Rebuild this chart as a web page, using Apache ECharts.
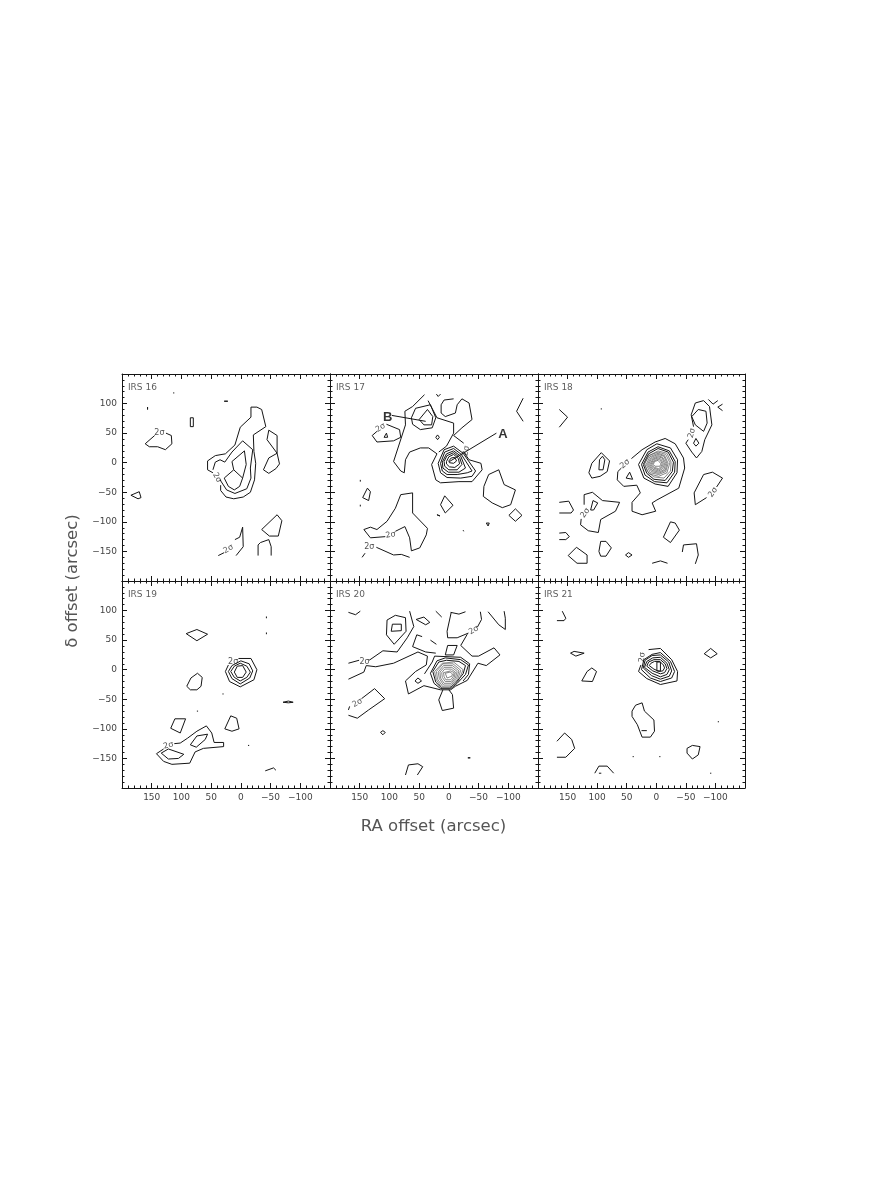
<!DOCTYPE html>
<html>
<head>
<meta charset="utf-8">
<style>
  html, body { margin: 0; padding: 0; background: #fff; }
  #chart { width: 872px; height: 1204px; }
</style>
<script src="https://cdn.jsdelivr.net/npm/echarts@6/dist/echarts.min.js"></script>
</head>
<body>
<div id="chart"></div>
<script>
// every contour is a list of [RA offset, dec offset], in arcsec
const panelNames = ["IRS 16", "IRS 17", "IRS 18", "IRS 19", "IRS 20", "IRS 21"];
const xTicksRange = [-150, 200];
const yTicksRange = [-200, 150];

// IRS 16
const irs16Loops = [
  [[157,94],[156,92],[157,90],[158,92]],
  [[114,118],[113,119],[112,118],[113,117]],
  [[28,104],[25,106],[22,104],[25,103]],
  [[85,76],[80,76],[80,61],[85,61]],
  [[185,-55],[171,-49],[168,-59],[173,-61]],
  [[15,2],[-6,20],[-9,-3],[-3,-26],[2,-40],[11,-46],[21,-40],[28,-26],[12,-12]],
  [[-47,55],[-61,46],[-61,16],[-65,-2],[-59,-10],[-47,-18],[-38,-12],[-47,8],[-61,16],[-44,39]],
  [[-35,-113],[-61,-88],[-69,-98],[-63,-124],[-48,-124]],
];
const irs16Open = [
  [[145,46],[161,32],[154,27],[140,27],[127,22],[116,32],[117,46],[126,50]],
  [[47,-17],[56,-12],[56,3],[43,12],[26,15],[10,30],[1,60],[-17,77],[-17,94],[-27,94],[-35,90],[-42,61],[-21,47],[-22,19],[-25,-1],[-23,-29],[-16,-50],[-4,-58],[12,-61],[25,-58],[34,-47],[34,-38]],
  [[47,-12],[43,1],[35,5],[27,1],[15,18],[-3,37],[-20,22],[-16,-9],[-17,-26],[-10,-44],[10,-52],[24,-46],[35,-29]],
  [[12,-12],[-3,-26]],
  [[-29,-157],[-29,-139],[-33,-135],[-47,-130],[-51,-142],[-51,-157]],
  [[38,-157],[28,-152]],
  [[10,-130],[2,-126],[-3,-109],[-4,-142],[8,-157]],
];
const irs16Labels = [[137,50,"2σ",0],[40,-25,"2σ",-60],[21,-146,"2σ",30]];

// IRS 17
const irs17Loops = [
  [[22,43],[19,47],[16,43],[19,39]],
  [[63,76],[56,92],[31,98],[22,76],[28,59],[48,56],[61,65]],
  [[50,73],[36,90],[27,78],[29,64],[42,64]],
  [[109,43],[105,50],[103,43]],
  [[149,-29],[148,-30],[149,-32],[150,-30]],
  [[149,-71],[148,-72],[149,-74],[150,-72]],
  [[145,-59],[137,-43],[132,-49],[135,-64]],
  [[14,-71],[7,-56],[-7,-72],[6,-85]],
  [[20,-88],[17,-85],[15,-90],[18,-92]],
  [[-24,-114],[-25,-116],[-23,-116]],
  [[-63,-102],[-68,-102],[-66,-107]],
  [[-67,-20],[-84,-12],[-93,-37],[-112,-46],[-104,-71],[-90,-76],[-73,-68],[-58,-57],[-59,-40]],
  [[-101,-89],[-112,-78],[-123,-89],[-112,-99]],
  [[18,-1],[8,22],[-8,28],[-24,16],[-45,-14],[-39,-23],[-20,-26],[3,-25],[14,-17]],
  [[14,-1],[7,18],[-8,24],[-21,14],[-39,-14],[-31,-17],[-14,-20],[3,-20],[11,-14]],
  [[11,1],[4,15],[-8,20],[-20,11],[-28,-9],[-17,-16],[1,-16],[10,-9]],
  [[8,2],[3,12],[-8,17],[-18,9],[-22,-3],[-14,-12],[0,-12],[7,-6]],
  [[4,2],[0,10],[-8,14],[-16,7],[-18,-2],[-10,-8],[-1,-7],[4,-2]],
  [[0,3],[-4,8],[-10,9],[-13,3],[-8,-1],[-1,0]],
];
const irs17Open = [
  [[41,115],[61,95],[74,87],[73,64],[93,2],[81,-14],[75,-17],[73,5],[66,18],[48,25],[34,25],[20,15],[29,-3],[22,-29],[14,-34],[-17,-32],[-39,-32],[-56,-12],[-54,-1],[-34,5],[-25,18]],
  [[-25,33],[-8,46],[-22,59],[-39,73],[-34,101],[-22,108],[-14,98],[-11,84],[6,78],[13,84],[13,98],[8,106],[-8,108]],
  [[35,105],[20,76],[-8,67],[-8,50],[4,28],[17,18]],
  [[21,116],[18,112],[14,116]],
  [[121,53],[129,46],[121,35],[93,37],[81,43],[83,56],[105,65]],
  [[-125,109],[-114,87],[-125,70]],
  [[74,-108],[90,-116]],
  [[107,-125],[132,-127],[143,-113],[132,-109],[121,-113],[104,-99],[90,-77],[81,-54],[61,-51],[61,-85],[36,-111],[38,-122],[49,-144],[63,-149],[66,-127],[74,-108]],
  [[146,-160],[141,-153]],
  [[122,-143],[93,-156],[80,-155],[66,-160]],
  [[-1,2],[-80,50]],
  [[96,80],[39,70]],
];
const irs17Labels = [[115,59,"2σ",30],[98,-122,"2σ",10],[134,-142,"2σ",0],[-29,20,"2σ",80]];
const irs17Marks = [[-91,47,"A"],[103,77,"B"]];

// IRS 18
const irs18Loops = [
  [[93,92],[92,91],[93,90],[94,91]],
  [[-60,78],[-71,90],[-84,87],[-86,67],[-80,53],[-66,64]],
  [[-63,33],[-67,41],[-72,33],[-67,28]],
  [[114,-17],[109,-1],[93,17],[79,3],[83,-15],[95,-23],[109,-26]],
  [[97,-12],[96,5],[91,11],[87,5],[90,-12]],
  [[51,-26],[45,-16],[40,-28]],
  [[30,-3],[16,22],[-1,32],[-24,25],[-36,5],[-35,-17],[-20,-40],[2,-36],[21,-26]],
  [[25,-3],[14,18],[-3,27],[-22,20],[-32,2],[-31,-16],[-18,-34],[3,-32],[19,-21]],
  [[22,-3],[13,15],[-3,24],[-20,18],[-29,1],[-27,-15],[-15,-30],[4,-28],[16,-18]],
  [[111,-80],[107,-64],[99,-68],[106,-80]],
  [[149,-157],[135,-143],[117,-156],[117,-170],[134,-170]],
  [[97,-150],[94,-133],[85,-133],[76,-144],[85,-158],[94,-158]],
  [[52,-156],[47,-152],[41,-156],[47,-160]],
  [[-12,-126],[-24,-100],[-32,-102],[-39,-114],[-24,-135]],
];
// the tightly packed rings at the source peak, drawn finer
const irs18Dense = [
  [[20,-1],[12,12],[-3,20],[-18,16],[-25,1],[-24,-14],[-13,-26],[4,-24],[15,-15]],
  [[20,-3],[13,12],[-3,18],[-16,14],[-23,0],[-18,-17],[-4,-23],[12,-19]],
  [[17,-3],[11,10],[-3,16],[-14,12],[-20,-1],[-16,-15],[-4,-20],[10,-17]],
  [[15,-3],[9,9],[-3,14],[-13,11],[-18,-1],[-15,-13],[-4,-18],[8,-15]],
  [[13,-3],[8,7],[-3,12],[-11,9],[-16,-1],[-13,-12],[-4,-16],[7,-13]],
  [[11,-3],[6,6],[-3,10],[-10,8],[-14,-2],[-11,-10],[-4,-14],[6,-11]],
  [[9,-3],[5,5],[-3,8],[-8,6],[-12,-2],[-9,-9],[-4,-12],[5,-9]],
  [[7,-3],[4,3],[-3,6],[-7,4],[-10,-2],[-8,-7],[-4,-10],[3,-8]],
  [[5,-3],[3,2],[-3,4],[-5,3],[-8,-2],[-6,-6],[-3,-8],[2,-6]],
];
const irs18Open = [
  [[164,90],[150,77],[164,60]],
  [[-63,61],[-59,81],[-66,101],[-80,105],[-90,95],[-94,64],[-82,39],[-77,19],[-68,8],[-60,18],[-50,33],[-54,39]],
  [[-88,107],[-96,99],[-104,105]],
  [[-112,99],[-104,94],[-112,88]],
  [[59,-9],[65,-15],[66,-29],[55,-40],[33,-38],[27,-51],[41,-67],[41,-82],[24,-88],[1,-82],[7,-68],[-1,-63],[-38,-43],[-48,-9],[-46,8],[-32,32],[-15,41],[2,35],[24,22],[42,7]],
  [[122,-71],[122,-54],[108,-50],[91,-64],[62,-67],[69,-82],[94,-96],[98,-118],[115,-115],[128,-105],[127,-95]],
  [[164,-67],[148,-65],[140,-80],[144,-85],[164,-85]],
  [[164,-119],[153,-118],[147,-125],[153,-130],[164,-130]],
  [[7,-170],[-7,-166],[-19,-170]],
  [[-44,-151],[-46,-139],[-68,-137],[-71,-156],[-66,-171]],
  [[-102,-41],[-112,-26],[-95,-16],[-80,-20],[-64,-51],[-66,-71],[-85,-59]],
];
const irs18Labels = [[-60,50,"2σ",75],[53,-2,"2σ",40],[120,-85,"2σ",55],[-96,-50,"2σ",55]];

// IRS 19
const irs19Loops = [
  [[92,61],[74,68],[56,60],[74,49]],
  [[-43,90],[-44,89],[-43,87],[-42,89]],
  [[-43,63],[-44,62],[-43,60],[-42,62]],
  [[21,-3],[15,7],[0,15],[-14,10],[-20,-2],[-15,-14],[1,-24],[15,-15]],
  [[17,-3],[11,6],[1,11],[-10,6],[-16,-4],[-10,-13],[1,-19],[11,-13]],
  [[11,-4],[6,6],[-3,7],[-9,-4],[-3,-13],[6,-13]],
  [[91,-28],[84,-14],[73,-6],[65,-13],[67,-28],[74,-34],[85,-34]],
  [[31,-41],[30,-40],[29,-41],[30,-42]],
  [[74,-70],[73,-69],[72,-70],[73,-71]],
  [[-12,-128],[-13,-127],[-14,-128],[-13,-129]],
  [[-71,-55],[-80,-53],[-88,-55],[-80,-56]],
  [[118,-99],[111,-83],[93,-83],[102,-107]],
  [[27,-100],[17,-78],[7,-82],[3,-100],[15,-104]],
  [[134,-141],[122,-134],[96,-143],[105,-150],[122,-151]],
  [[85,-127],[74,-112],[56,-109],[60,-118],[75,-131]],
];
const irs19Open = [
  [[4,19],[-17,19],[-27,0],[-22,-17],[1,-29],[19,-20],[26,-3],[21,8]],
  [[130,-134],[142,-142],[130,-155],[116,-160],[86,-158],[77,-139],[63,-133],[29,-130],[29,-123],[45,-123],[49,-107],[58,-95],[74,-104],[90,-116],[102,-124],[112,-125]],
  [[-41,-171],[-42,-168],[-55,-166],[-59,-170]],
];
const irs19Labels = [[122,-128,"2σ",15],[13,13,"2σ",0]];

// IRS 20
const irs20Loops = [
  [[92,43],[105,59],[104,84],[90,92],[73,88],[72,65]],
  [[97,65],[95,77],[80,77],[80,66]],
  [[55,85],[42,89],[32,80],[39,76]],
  [[6,25],[2,41],[-14,41],[-8,25]],
  [[57,-19],[52,-14],[46,-19],[52,-23]],
  [[31,-6],[20,15],[6,20],[-20,17],[-33,8],[-28,-8],[-14,-23],[-3,-32],[14,-32],[25,-23]],
  [[27,-3],[17,13],[4,16],[-17,14],[-28,7],[-24,-7],[-11,-23],[-1,-31],[12,-31],[22,-21]],
  [[115,-106],[111,-103],[107,-106],[111,-110]],
  [[-32,-149],[-34,-148],[-36,-149],[-34,-150]],
];
const irs20Dense = [
  [[24,-3],[11,11],[-8,13],[-24,0],[-17,-17],[-6,-32],[11,-32],[21,-17]],
  [[21,-3],[10,10],[-7,10],[-20,-1],[-15,-16],[-4,-29],[10,-29],[19,-16]],
  [[18,-4],[9,7],[-6,7],[-17,-2],[-13,-15],[-4,-26],[9,-26],[16,-15]],
  [[15,-4],[8,4],[-5,4],[-14,-3],[-11,-14],[-4,-23],[8,-23],[14,-14]],
  [[12,-5],[7,1],[-4,1],[-11,-4],[-9,-13],[-4,-20],[6,-20],[11,-13]],
  [[9,-5],[6,-2],[-3,-2],[-9,-5],[-7,-12],[-3,-17],[5,-17],[8,-12]],
  [[6,-6],[4,-4],[-2,-4],[-6,-7],[-5,-11],[-2,-14],[3,-14],[5,-11]],
];
const irs20Open = [
  [[169,97],[157,93],[149,99]],
  [[134,16],[111,32],[87,30],[70,54],[59,73],[66,99]],
  [[169,11],[151,16]],
  [[169,-16],[143,-4],[139,7],[123,5],[93,11],[52,30],[36,23],[38,8],[56,-3],[73,-19],[68,-41],[42,-27],[14,-34],[-3,-34],[-11,-28],[-31,-18],[-49,11],[-63,7],[-86,25],[-76,37],[-50,23],[-39,23],[-20,41],[-31,60]],
  [[41,-7],[28,13],[24,23],[-20,21],[-35,10],[-33,-8],[-24,-19]],
  [[22,99],[12,89]],
  [[-4,97],[3,65],[2,54],[-14,54],[-33,62]],
  [[-48,72],[-55,85],[-53,98]],
  [[-3,97],[-17,94],[-28,98]],
  [[-66,98],[-84,76],[-95,68],[-95,87],[-93,99]],
  [[21,43],[31,50]],
  [[45,56],[54,59],[61,39],[39,30],[22,28]],
  [[10,-34],[17,-51],[11,-69],[-8,-65],[-6,-42],[0,-34]],
  [[147,-49],[125,-32],[108,-49],[135,-68],[154,-82],[169,-77]],
  [[169,-68],[167,-62]],
  [[73,-178],[68,-161],[52,-159],[44,-164],[53,-178]],
];
const irs20Labels = [[142,13,"2σ",0],[-42,67,"2σ",30],[154,-56,"2σ",30]];

// IRS 21
const irs21Loops = [
  [[145,28],[139,31],[122,28],[136,23]],
  [[126,-19],[117,-3],[109,3],[101,-3],[108,-20]],
  [[25,0],[21,17],[7,26],[-7,29],[-24,14],[-31,-3],[-26,-14],[-7,-20],[10,-14]],
  [[22,3],[19,16],[7,24],[-7,25],[-21,13],[-26,-2],[-22,-11],[-7,-16],[8,-10]],
  [[20,4],[16,14],[6,20],[-7,21],[-18,11],[-22,0],[-18,-8],[-7,-12],[7,-6]],
  [[16,6],[13,13],[4,17],[-7,17],[-15,10],[-18,2],[-14,-5],[-7,-7],[6,-2]],
  [[12,7],[9,11],[3,14],[-6,14],[-12,8],[-14,3],[-11,-2],[-5,-3],[4,1]],
  [[-1,13],[-7,13],[-7,-2],[-1,-2]],
  [[-81,27],[-92,36],[-103,27],[-92,20]],
  [[41,-70],[35,-60],[24,-56],[20,-70],[4,-85],[3,-104],[10,-114],[24,-114],[32,-93],[41,-79]],
  [[40,-147],[39,-146],[38,-147],[39,-148]],
  [[-5,-147],[-6,-146],[-7,-147],[-6,-148]],
  [[-91,-175],[-92,-174],[-93,-175],[-92,-176]],
  [[-104,-88],[-105,-87],[-106,-88],[-105,-89]],
  [[-52,-133],[-61,-128],[-74,-130],[-71,-144],[-61,-151],[-52,-141]],
];
const irs21Open = [
  [[159,99],[153,87],[156,83],[168,83]],
  [[26,8],[30,-3],[16,-15],[-7,-25],[-35,-19],[-36,-3],[-26,17],[-7,36],[13,34]],
  [[25,-103],[16,-103]],
  [[168,-121],[155,-107],[143,-118],[138,-133],[153,-148],[168,-148]],
  [[104,-175],[97,-163],[83,-163],[72,-175]],
  [[97,-175],[93,-175]],
];
const irs21Labels = [[24,21,"2σ",85]];

const panelLoops = [irs16Loops, irs17Loops, irs18Loops, irs19Loops, irs20Loops, irs21Loops];
const panelOpen = [irs16Open, irs17Open, irs18Open, irs19Open, irs20Open, irs21Open];
const panelDense = [[], [], irs18Dense, [], irs20Dense, []];
const panelLabels = [irs16Labels, irs17Labels, irs18Labels, irs19Labels, irs20Labels, irs21Labels];

const font = "DejaVu Sans";
const lineColor = "#151515";
const textColor = "#444";

function tickLabel(v) {
  return v < 0 ? "\u2212" + (-v) : String(v);
}

function makeAxis(type, opts) {
  const range = type === "x" ? xTicksRange : yTicksRange;
  return Object.assign({
    type: "value",
    min: range[0],
    max: range[1],
    interval: 50,
    splitLine: { show: false },
    axisLine: { show: true, onZero: false, lineStyle: { color: lineColor, width: 1 } },
    axisTick: { show: true, inside: true, length: 5, lineStyle: { color: lineColor, width: 1 } },
    minorTick: { show: true, splitNumber: 5, length: 2.5, lineStyle: { color: lineColor, width: 1 } },
    axisLabel: { show: false },
  }, opts);
}

const grids = [], xAxes = [], yAxes = [], series = [];
const gridLeft = [122, 330, 538];
const gridWidth = [208, 208, 207];
const gridTop = [374, 581];
const gridHeight = [207, 207];

panelNames.forEach((name, i) => {
  const col = i % 3, row = Math.floor(i / 3);
  grids.push({ left: gridLeft[col], top: gridTop[row], width: gridWidth[col], height: gridHeight[row] });

  const shownLabel = {
    show: true, margin: 5, fontFamily: font, fontSize: 9, color: textColor,
    showMinLabel: false, showMaxLabel: false, formatter: tickLabel,
  };
  // two axes for each side so the ticks run round the whole frame
  xAxes.push(makeAxis("x", { gridIndex: i, position: "bottom", inverse: true, axisLabel: row === 1 ? shownLabel : { show: false } }));
  xAxes.push(makeAxis("x", { gridIndex: i, position: "top", inverse: true }));
  yAxes.push(makeAxis("y", { gridIndex: i, position: "left", axisLabel: col === 0 ? shownLabel : { show: false } }));
  yAxes.push(makeAxis("y", { gridIndex: i, position: "right" }));

  const axisRef = { xAxisIndex: i * 2, yAxisIndex: i * 2 };
  const lines = panelLoops[i].map((c) => c.concat([c[0]])).concat(panelOpen[i]);
  lines.forEach((c) => {
    series.push(Object.assign({
      type: "line", data: c, showSymbol: false, symbol: "none", silent: true,
      lineStyle: { color: lineColor, width: 1 },
    }, axisRef));
  });
  panelDense[i].forEach((c) => {
    series.push(Object.assign({
      type: "line", data: c.concat([c[0]]), showSymbol: false, symbol: "none", silent: true,
      lineStyle: { color: "#555", width: 0.7 },
    }, axisRef));
  });

  const labelPoints = panelLabels[i].map((d) => ({
    value: [d[0], d[1]],
    label: { formatter: d[2], rotate: d[3] },
  }));
  labelPoints.push({
    value: [190, 127],
    label: { formatter: name, fontSize: 9, align: "left", color: "#333", rotate: 0 },
  });
  if (i === 1) {
    irs17Marks.forEach((d) => labelPoints.push({
      value: [d[0], d[1]],
      label: { formatter: d[2], fontSize: 13, fontWeight: "bold", color: "#000", fontFamily: "Liberation Sans", rotate: 0 },
    }));
  }
  series.push(Object.assign({
    type: "scatter", symbolSize: 0, silent: true, data: labelPoints,
    label: { show: true, position: "inside", fontFamily: font, fontSize: 8, color: "#222" },
  }, axisRef));
});

const chart = echarts.init(document.getElementById("chart"), null, { renderer: "canvas" });
chart.setOption({
  animation: false,
  backgroundColor: "#fff",
  grid: grids,
  xAxis: xAxes,
  yAxis: yAxes,
  series: series,
  graphic: [
    { type: "text", x: 433.5, y: 827, style: { text: "RA offset (arcsec)", font: "16.5px 'DejaVu Sans'", fill: "#555", align: "center", verticalAlign: "middle" } },
    { type: "text", x: 73, y: 581, rotation: Math.PI / 2, style: { text: "δ offset (arcsec)", font: "16.5px 'DejaVu Sans'", fill: "#555", align: "center", verticalAlign: "middle" } },
  ],
});
</script>
</body>
</html>
